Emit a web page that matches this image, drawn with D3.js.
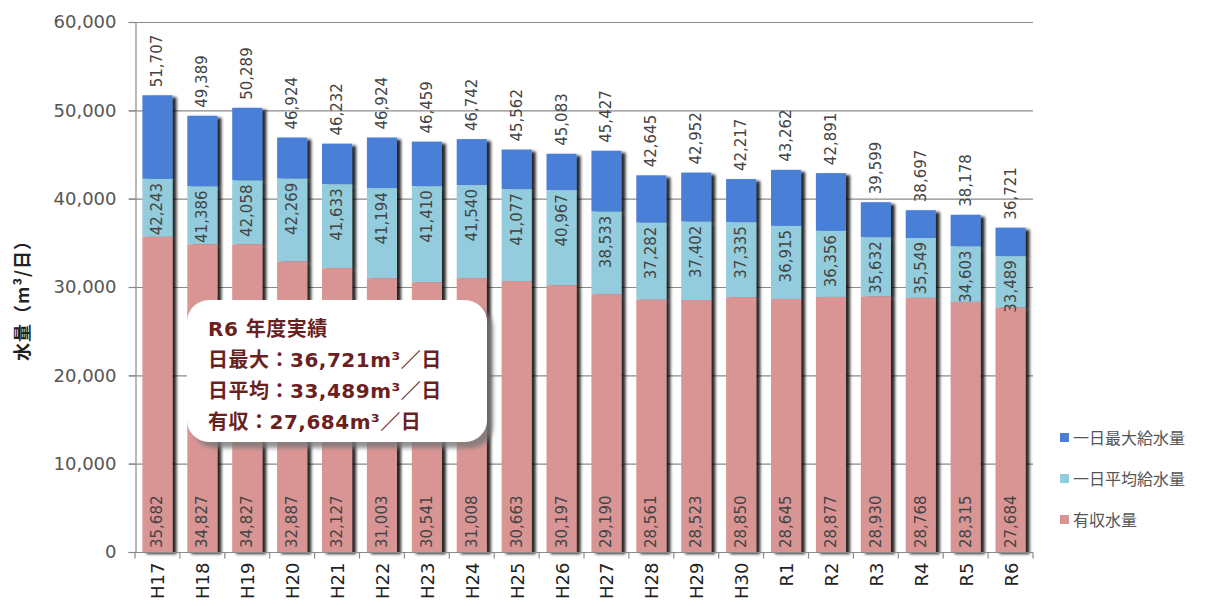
<!DOCTYPE html>
<html><head><meta charset="utf-8">
<script src="https://cdn.jsdelivr.net/npm/d3@7"></script>
<style>body{margin:0;background:#fff;}svg{display:block;}</style>
</head><body>
<svg id="c" width="1213" height="606"></svg>
<script>
const categories = ["H17","H18","H19","H20","H21","H22","H23","H24","H25","H26","H27","H28","H29","H30","R1","R2","R3","R4","R5","R6"];
const maxSupply = [51707,49389,50289,46924,46232,46924,46459,46742,45562,45083,45427,42645,42952,42217,43262,42891,39599,38697,38178,36721];
const avgSupply = [42243,41386,42058,42269,41633,41194,41410,41540,41077,40967,38533,37282,37402,37335,36915,36356,35632,35549,34603,33489];
const revenueWater = [35682,34827,34827,32887,32127,31003,30541,31008,30663,30197,29190,28561,28523,28850,28645,28877,28930,28768,28315,27684];
const yTicks = [0,10000,20000,30000,40000,50000,60000];
const legendLabels = ["一日最大給水量","一日平均給水量","有収水量"];
const noteLines = ["R6 年度実績","日最大：36,721m³／日","日平均：33,489m³／日","有収：27,684m³／日"];

const colors = {max:"#4a7fd6", avg:"#93cddd", rev:"#d99594"};
const svg = d3.select("#c");
const defs = svg.append("defs");
const f = defs.append("filter").attr("id","sh").attr("x","-20%").attr("y","-5%").attr("width","160%").attr("height","115%");
f.append("feDropShadow").attr("dx",4).attr("dy",2).attr("stdDeviation",1.8).attr("flood-color","#000").attr("flood-opacity",0.85);
const f2 = defs.append("filter").attr("id","sh2").attr("x","-10%").attr("y","-10%").attr("width","130%").attr("height","130%");
f2.append("feDropShadow").attr("dx",6).attr("dy",6).attr("stdDeviation",2).attr("flood-color","#777").attr("flood-opacity",0.8);

const L=135, R=1033, T=22, B=552;
const x = d3.scaleBand().domain(categories).range([L,R]).paddingInner(0.33).paddingOuter(0.165);
const y = d3.scaleLinear().domain([0,60000]).range([B,T]);
const lf = "'DejaVu Sans', Verdana, sans-serif";
const jf = "'Noto Sans CJK JP', sans-serif";

// gridlines
svg.append("g").selectAll("line").data(yTicks.filter(d=>d>0)).join("line")
  .attr("x1",L-6).attr("x2",R).attr("y1",d=>y(d)+0.5).attr("y2",d=>y(d)+0.5)
  .attr("stroke","#8a8a8a").attr("stroke-width",1.2);

// y axis
const ya = svg.append("g").attr("transform",`translate(${L+0.5},0)`)
  .call(d3.axisLeft(y).tickValues(yTicks).tickFormat(d3.format(",")).tickSize(7).tickPadding(12));
ya.select(".domain").attr("stroke","#8a8a8a").attr("stroke-width",1.2);
ya.selectAll(".tick line").attr("stroke","#8a8a8a").attr("stroke-width",1.2);
ya.selectAll("text").attr("font-family",lf).attr("font-size",18).attr("fill","#555");

// bars
const bars = svg.append("g").attr("filter","url(#sh)");
categories.forEach((c,i)=>{
  const g = bars.append("g");
  const bx = x(c), bw = x.bandwidth();
  g.append("rect").attr("x",bx).attr("width",bw).attr("y",y(maxSupply[i])).attr("height",y(avgSupply[i])-y(maxSupply[i])).attr("fill",colors.max);
  g.append("rect").attr("x",bx).attr("width",bw).attr("y",y(avgSupply[i])).attr("height",y(revenueWater[i])-y(avgSupply[i])).attr("fill",colors.avg);
  g.append("rect").attr("x",bx).attr("width",bw).attr("y",y(revenueWater[i])).attr("height",B-y(revenueWater[i])).attr("fill",colors.rev);
});

// x axis
const xa = svg.append("g").attr("transform",`translate(0,${B+0.5})`);
xa.append("line").attr("x1",L).attr("x2",R).attr("stroke","#8a8a8a").attr("stroke-width",1.2);
const bounds = categories.map(c=>x(c)-x.step()*x.paddingInner()/2).concat([R]);
xa.selectAll("line.t").data(bounds).join("line").attr("class","t")
  .attr("x1",d=>d).attr("x2",d=>d).attr("y1",0).attr("y2",6).attr("stroke","#8a8a8a").attr("stroke-width",1.2);
xa.selectAll("text").data(categories).join("text")
  .attr("transform",d=>`translate(${x(d)+x.bandwidth()/2+7},10) rotate(-90)`)
  .attr("text-anchor","end").attr("font-family",lf).attr("font-size",18).attr("fill","#222").text(d=>d);

// labels
const lab = svg.append("g").attr("font-family",lf).attr("font-size",15).attr("fill","#444");
categories.forEach((c,i)=>{
  const cx = x(c)+x.bandwidth()/2+5;
  lab.append("text").attr("transform",`translate(${cx},${y(maxSupply[i])-8}) rotate(-90)`).attr("text-anchor","start").text(d3.format(",")(maxSupply[i]));
  lab.append("text").attr("transform",`translate(${cx},${y(avgSupply[i])+4}) rotate(-90)`).attr("text-anchor","end").text(d3.format(",")(avgSupply[i]));
  lab.append("text").attr("transform",`translate(${cx},${B-4}) rotate(-90)`).attr("text-anchor","start").text(d3.format(",")(revenueWater[i]));
});

// y title
svg.append("text").attr("transform","translate(29,296) rotate(-90)").attr("text-anchor","middle")
  .attr("font-family",jf).attr("font-weight","bold").attr("font-size",18).attr("letter-spacing",1).attr("fill","#222")
  .text("水量（m³/日）");

// legend
const lg = svg.append("g").attr("font-family",jf).attr("font-size",16).attr("fill","#555");
[colors.max,colors.avg,colors.rev].forEach((col,i)=>{
  const yy = 438 + i*41;
  lg.append("rect").attr("x",1060).attr("y",yy-5).attr("width",9).attr("height",9).attr("fill",col);
  lg.append("text").attr("x",1073).attr("y",yy+6).text(legendLabels[i]);
});

// annotation box
svg.append("rect").attr("x",187).attr("y",300).attr("width",300).attr("height",142).attr("rx",22)
  .attr("fill","#fff").attr("filter","url(#sh2)");
const nt = svg.append("g").attr("font-family","'DejaVu Sans', 'Noto Sans CJK JP', sans-serif").attr("font-weight","bold").attr("font-size",20).attr("letter-spacing",0.5).attr("fill","#6b1f1f");
noteLines.forEach((t,i)=>{
  nt.append("text").attr("x",208).attr("y",336+i*31).text(t);
});
</script>
</body></html>
